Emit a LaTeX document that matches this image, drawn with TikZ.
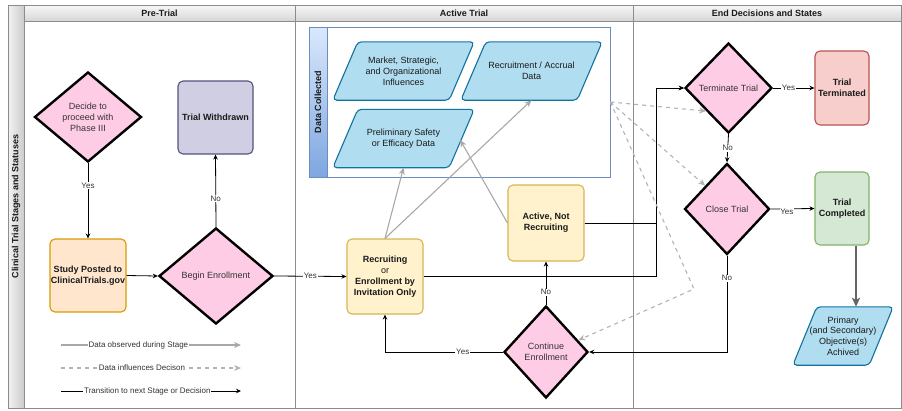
\documentclass[tikz,border=0pt]{standalone}
\usepackage{fontspec}
\setmainfont{Liberation Sans}
\usetikzlibrary{shapes.geometric,arrows.meta,calc,backgrounds}
\definecolor{pinkf}{HTML}{FFCCE6}
\definecolor{lavf}{HTML}{D0CEE2}
\definecolor{lavd}{HTML}{56517E}
\definecolor{orangef}{HTML}{FFE6CC}
\definecolor{oranged}{HTML}{D79B00}
\definecolor{yellowf}{HTML}{FFF2CC}
\definecolor{yellowd}{HTML}{D6B656}
\definecolor{redf}{HTML}{F8CECC}
\definecolor{redd}{HTML}{B85450}
\definecolor{greenf}{HTML}{D5E8D4}
\definecolor{greend}{HTML}{82B366}
\definecolor{bluef}{HTML}{B1DDF0}
\definecolor{blued}{HTML}{10739E}
\definecolor{poolbd}{HTML}{6C8EBF}
\definecolor{poolt}{HTML}{DAE8FC}
\definecolor{poolb}{HTML}{7EA6E0}
\definecolor{laned}{HTML}{8C8C8C}
\definecolor{obsc}{HTML}{A8A8A8}
\definecolor{inflc}{HTML}{B3B3B3}
\definecolor{txt}{HTML}{1A1A1A}
\definecolor{diat}{HTML}{333333}
\definecolor{bigc}{HTML}{666666}
\newcommand\drawpara[2]{%
  \draw[parashape] (#1.south west) -- ($(#1.south east)+(-#2,0)$) -- (#1.north east) -- ($(#1.north west)+(#2,0)$) -- cycle;}
\begin{document}
\begin{tikzpicture}[x=1pt,y=-1pt,
  base/.style={font=\fontsize{9}{10.8}\selectfont, align=center, inner sep=1pt, text=txt},
  dia/.style={base, diamond, draw=black, line width=2.4pt, fill=pinkf, text=diat},
  rbox/.style={base, rectangle, rounded corners=5pt, line width=1.1pt, font=\fontsize{9}{10.8}\selectfont\bfseries},
  paranode/.style={base, rectangle, draw=none, minimum width=#1, minimum height=58pt, inner sep=0pt},
  parashape/.style={draw=blued, fill=bluef, line width=1.1pt, rounded corners=4pt},
  hdr/.style={font=\fontsize{9}{10}\selectfont\bfseries, text=txt, inner sep=0pt},
  lanebd/.style={draw=laned, line width=0.8pt},
  lbl/.style={font=\fontsize{8}{9}\selectfont, fill=white, inner sep=0.8pt, text=diat},
  trans/.style={draw=black, line width=0.8pt, -{Stealth[length=5pt,width=4.5pt]}},
  obs/.style={draw=obsc, line width=1.1pt, -{Stealth[length=7pt,width=6pt]}},
  infl/.style={draw=inflc, line width=1.1pt, dash pattern=on 4pt off 4pt, -{Stealth[length=7pt,width=6pt]}},
  big/.style={draw=bigc, line width=1.8pt, -{Stealth[length=9pt,width=8pt,inset=2pt]}}
]
\useasboundingbox (0,0) rectangle (902,410);
% lanes
\draw[lanebd, left color=gray!10, right color=gray!40] (8,5) rectangle (24,408);
\draw[lanebd, top color=gray!6, bottom color=gray!32] (24,5) rectangle (295,21);
\draw[lanebd, top color=gray!6, bottom color=gray!32] (295,5) rectangle (633,21);
\draw[lanebd, top color=gray!6, bottom color=gray!32] (633,5) rectangle (901.5,21);
\draw[lanebd] (24,21) rectangle (295,408);
\draw[lanebd] (295,21) rectangle (633,408);
\draw[lanebd] (633,21) rectangle (901.5,408);
\node[hdr, rotate=90] (title) at (16,206.5) {Clinical Trial Stages and Statuses};
\node[hdr] (h1) at (159.5,13.5) {Pre-Trial};
\node[hdr] (h2) at (464,13.5) {Active Trial};
\node[hdr] (h3) at (767,13.5) {End Decisions and States};
% data collected pool
\node[draw=poolbd, line width=0.6pt, minimum width=301pt, minimum height=150pt, inner sep=0pt] (pool) at (459.5,102) {};
\node[draw=poolbd, line width=0.6pt, top color=poolt, bottom color=poolb, minimum width=18pt, minimum height=150pt, inner sep=0pt] (poolh) at (318,102) {};
\node[hdr, rotate=90] (pooltitle) at (poolh) {Data Collected};
% parallelograms
\node[paranode=141pt] (market) at (403.5,71) {Market, Strategic,\\and Organizational\\Influences};
\node[paranode=141pt] (accrual) at (531.5,71) {Recruitment / Accrual\\Data};
\node[paranode=141pt] (prelim) at (403.5,138.5) {Preliminary Safety\\or Efficacy Data};
\node[paranode=100pt] (prim) at (843,336) {Primary\\(and Secondary)\\Objective(s)\\Achived};
\begin{scope}[on background layer]
\drawpara{market}{25}
\drawpara{accrual}{25}
\drawpara{prelim}{25}
\drawpara{prim}{24}
\end{scope}
% pre-trial
\node[dia, minimum width=107pt, minimum height=90pt] (decide) at (88,117) {Decide to\\proceed with\\Phase III};
\node[rbox, fill=lavf, draw=lavd, minimum width=75pt, minimum height=73pt] (withdrawn) at (215.5,117.5) {Trial Withdrawn};
\node[rbox, fill=orangef, draw=oranged, minimum width=76pt, minimum height=73pt] (study) at (88,275.5) {Study Posted to\\ClinicalTrials.gov};
\node[dia, minimum width=114pt, minimum height=96pt] (begin) at (216,276) {Begin Enrollment};
% active trial
\node[rbox, fill=yellowf, draw=yellowd, minimum width=76pt, minimum height=75pt, font=\fontsize{9}{11}\selectfont] (recruit) at (385,276.5) {\textbf{Recruiting}\\or\\\textbf{Enrollment by}\\\textbf{Invitation Only}};
\node[rbox, fill=yellowf, draw=yellowd, minimum width=76pt, minimum height=76pt] (active) at (546,223) {Active, Not\\Recruiting};
\node[dia, minimum width=84pt, minimum height=92pt] (continue) at (546,352) {Continue\\Enrollment};
% end decisions
\node[dia, minimum width=87pt, minimum height=90pt] (terminate) at (728.5,88) {Terminate Trial};
\node[rbox, fill=redf, draw=redd, minimum width=54pt, minimum height=74pt] (terminated) at (842,88) {Trial\\Terminated};
\node[dia, minimum width=85pt, minimum height=91pt] (close) at (727,209) {Close Trial};
\node[rbox, fill=greenf, draw=greend, minimum width=54pt, minimum height=73pt] (completed) at (842,208.5) {Trial\\Completed};
% helper coordinates
\coordinate (jx) at (656,0);
\coordinate (bend) at (694,289);
% transitions
\draw[trans] (decide.south) -- node[lbl, pos=0.3] {Yes} (study.north);
\draw[trans] (study.east) -- (begin.west);
\draw[trans] (begin.north) -- node[lbl, pos=0.39] {No} (withdrawn.south);
\draw[trans] (begin.east) -- node[lbl, pos=0.5] {Yes} (recruit.west);
\draw[trans] (recruit.east) -- (recruit.east -| jx) |- (terminate.west);
\draw[trans] (active.east) -- (active.east -| jx) |- (terminate.west);
\draw[trans] (continue.west) -| node[lbl, pos=0.17] {Yes} (recruit.south);
\draw[trans] (continue.north) -- node[lbl, pos=0.29] {No} (active.south);
\draw[trans] (terminate.east) -- node[lbl, pos=0.37] {Yes} (terminated.west);
\draw[trans] (terminate.south) -- node[lbl, pos=0.5] {No} (close.north);
\draw[trans] (close.east) -- node[lbl, pos=0.37, yshift=-3pt] {Yes} (completed.west);
\draw[trans] (close.south) |- node[lbl, pos=0.117] {No} (continue.east);
\draw[big] ($(completed.south)+(14,0)$) -- ($(prim.north)+(13,0)$);
% data observed
\draw[obs] (recruit.north) -- (prelim.south);
\draw[obs] (recruit.north) -- (accrual.south);
\draw[obs] (active.west) -- ($(prelim.east)+(-14,1.5)$);
% data influences
\draw[infl] (pool.east) -- (terminate.south west);
\draw[infl] (pool.east) -- (close.north west);
\draw[infl] (pool.east) -- (bend) -- ($(continue.east)!0.25!(continue.north)$);
% legend
\coordinate (la1) at (61,345); \coordinate (lb1) at (241,345);
\coordinate (la2) at (61,368); \coordinate (lb2) at (241,368);
\coordinate (la3) at (61,391); \coordinate (lb3) at (241,391);
\draw[obs] (la1) -- node[lbl, pos=0.43] {Data observed during Stage} (lb1);
\draw[infl] (la2) -- node[lbl, pos=0.45] {Data influences Decison} (lb2);
\draw[trans] (la3) -- node[lbl, pos=0.48] {Transition to next Stage or Decision} (lb3);
\end{tikzpicture}
\end{document}
